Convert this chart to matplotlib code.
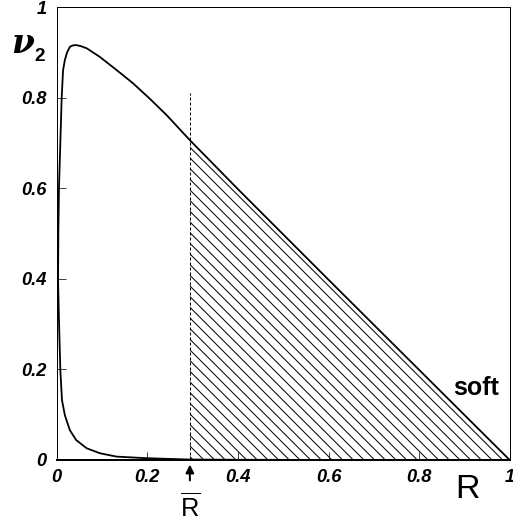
import matplotlib
matplotlib.use('Agg')
import matplotlib.pyplot as plt

DPI = 96
S = 72.0 / DPI  # pixels -> points

plt.rcParams['font.family'] = ['Liberation Sans', 'DejaVu Sans']
plt.rcParams['font.weight'] = 'bold'
plt.rcParams['font.style'] = 'italic'
plt.rcParams['mathtext.fontset'] = 'custom'
plt.rcParams['mathtext.rm'] = 'Liberation Sans:style=normal:weight=normal'
plt.rcParams['hatch.linewidth'] = 1.0 * S

# ---- data ----
rbar = 0.294
# lower branch, from R=1 back toward the origin and up the left edge
lower_R = [1.0, 0.6, 0.40, 0.294, 0.198, 0.132, 0.095, 0.066, 0.043, 0.029,
           0.018, 0.0117, 0.008, 0.0046, 0.0030, 0.0037, 0.005]
lower_nu = [0.0, 0.0, 0.0005, 0.001, 0.004, 0.0075, 0.015, 0.026, 0.044, 0.066,
            0.099, 0.132, 0.199, 0.324, 0.397, 0.508, 0.6]
# upper branch, from the left edge over the peak down to R=1
upper_R = [0.005, 0.011, 0.014, 0.018, 0.023, 0.029, 0.035, 0.042, 0.052, 0.066,
           0.095, 0.132, 0.168, 0.205, 0.242, 0.294, 0.4, 0.6, 0.8, 1.0]
upper_nu = [0.6, 0.8, 0.86, 0.883, 0.90, 0.912, 0.915, 0.916, 0.914, 0.909,
            0.890, 0.861, 0.832, 0.798, 0.762, 0.706, 0.598, 0.398, 0.199, 0.0]
dash_top = 0.81

xticks = [0, 0.2, 0.4, 0.6, 0.8, 1.0]
xtick_labels = ['0', '0.2', '0.4', '0.6', '0.8', '1']
yticks = [0, 0.2, 0.4, 0.6, 0.8, 1.0]
ytick_labels = ['0', '0.2', '0.4', '0.6', '0.8', '1']

fig = plt.figure(figsize=(513 / DPI, 521 / DPI), dpi=DPI)
ax = fig.add_axes([56.7 / 513, (521 - 460) / 521, 453 / 513, 453 / 521])
ax.set_xlim(0, 1)
ax.set_ylim(0, 1)

# closed curve
ax.plot(lower_R + upper_R, lower_nu + upper_nu, color='black', lw=1.8 * S,
        solid_joinstyle='round', zorder=3, clip_on=False)

# hatched region right of R-bar
hx = [r for r in upper_R if r >= rbar]
hy = [v for r, v in zip(upper_R, upper_nu) if r >= rbar]
ax.fill_between(hx, 0, hy, facecolor='none', edgecolor='black',
                hatch='\\\\\\', linewidth=0, zorder=2)

# dashed R-bar line
ax.plot([rbar, rbar], [0, dash_top], color='black', lw=1.0 * S,
        dashes=(3, 2), zorder=2)

# ticks
ax.set_xticks(xticks, xtick_labels)
ax.set_yticks(yticks, ytick_labels)
ax.tick_params(axis='both', direction='in', length=8.5 * S, width=1.0 * S,
               color='#444444', labelsize=18.3 * S)
ax.tick_params(axis='x', pad=9.5 * S)
ax.tick_params(axis='y', pad=10 * S)

for s in ['left', 'top', 'right']:
    ax.spines[s].set_linewidth(1.0 * S)
ax.spines['bottom'].set_linewidth(2.0 * S)

# axis labels
fig.text(11 / 513, 1 - 53 / 521, 'ν', family=['DejaVu Serif'],
         fontsize=33 * S, fontweight='bold', fontstyle='italic', ha='left',
         va='baseline')
fig.text(34 / 513, 1 - 61 / 521, '2', fontsize=19 * S, fontweight='bold',
         fontstyle='normal', ha='left', va='baseline')
ax.text(0.906, -0.084, 'R', transform=ax.transAxes, fontsize=34 * S,
        fontweight='normal', fontstyle='normal', ha='center', va='baseline')

# R-bar marker under the axis
ax.annotate('', xy=(rbar, -0.01), xytext=(rbar, -0.045),
            xycoords=('data', 'axes fraction'),
            textcoords=('data', 'axes fraction'),
            arrowprops=dict(arrowstyle='-|>,head_length=0.5,head_width=0.25',
                            color='black', lw=2.0 * S, shrinkA=0, shrinkB=0),
            annotation_clip=False)
ax.text(rbar, -0.126, r'$\overline{\mathrm{R}}$', transform=ax.transData,
        fontsize=25.5 * S, fontweight='normal', fontstyle='normal',
        ha='center', va='baseline', clip_on=False)

ax.text(0.925, 0.143, 'soft', fontsize=25 * S, fontweight='bold',
        fontstyle='normal', ha='center', va='baseline')

fig.savefig('out.png', dpi=DPI)
